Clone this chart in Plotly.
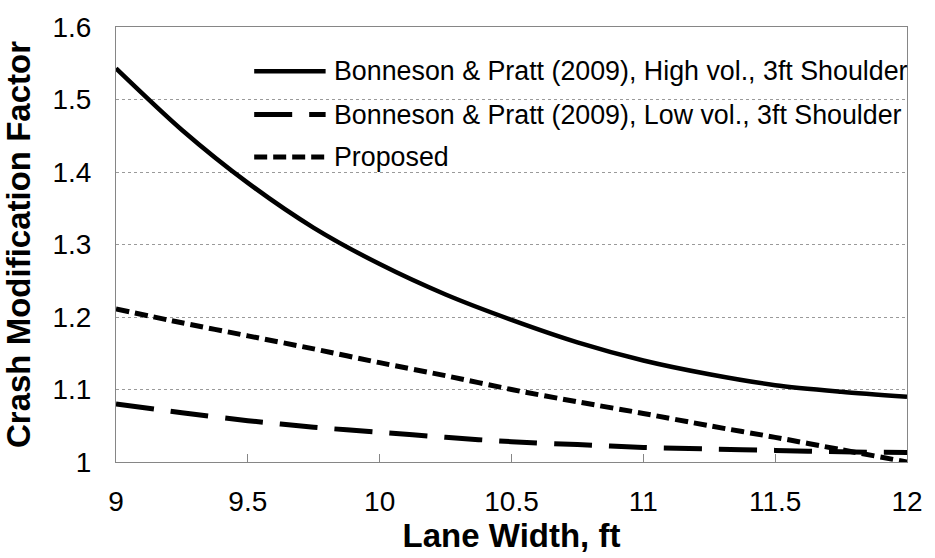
import plotly.graph_objects as go

# Lane width (ft) and crash modification factors
lane_width = [9.0, 9.25, 9.5, 9.75, 10.0, 10.25, 10.5, 10.75, 11.0, 11.25, 11.5, 11.75, 12.0]
cmf_high_vol = [1.543, 1.458, 1.385, 1.323, 1.273, 1.231, 1.196, 1.165, 1.140, 1.121, 1.106, 1.097, 1.090]
cmf_low_vol = [1.080, 1.068, 1.057, 1.048, 1.041, 1.034, 1.028, 1.024, 1.020, 1.018, 1.016, 1.014, 1.013]
cmf_proposed = [1.211, 1.192, 1.174, 1.156, 1.137, 1.119, 1.100, 1.083, 1.067, 1.050, 1.034, 1.017, 1.000]

series_names = [
    "Bonneson & Pratt (2009), High vol., 3ft Shoulder",
    "Bonneson & Pratt (2009), Low vol., 3ft Shoulder",
    "Proposed",
]

x_ticks = [9, 9.5, 10, 10.5, 11, 11.5, 12]
x_tick_text = ["9", "9.5", "10", "10.5", "11", "11.5", "12"]
y_ticks = [1.0, 1.1, 1.2, 1.3, 1.4, 1.5, 1.6]
y_tick_text = ["1", "1.1", "1.2", "1.3", "1.4", "1.5", "1.6"]

FONT = "Arial, Liberation Sans, sans-serif"
styles = [
    dict(width=4.5, dash="solid"),
    dict(width=5, dash="38px,17px"),
    dict(width=5, dash="13px,6px"),
]
series = [cmf_high_vol, cmf_low_vol, cmf_proposed]

fig = go.Figure()
for name, ys, st in zip(series_names, series, styles):
    fig.add_trace(go.Scatter(
        x=lane_width, y=ys, mode="lines", name=name,
        line=dict(color="black", width=st["width"], dash=st["dash"],
                  shape="spline", smoothing=0.8),
        showlegend=False, cliponaxis=True,
    ))

# Legend drawn inside the plot area: line sample + label per series
legend_rows = [0.898, 0.7986, 0.7014]
for name, st, yrow in zip(series_names, styles, legend_rows):
    fig.add_shape(type="line", xref="paper", yref="paper",
                  x0=0.1747, x1=0.2650, y0=yrow, y1=yrow,
                  line=dict(color="black", width=st["width"], dash=st["dash"]))
    fig.add_annotation(xref="paper", yref="paper", x=0.2725, y=yrow,
                       xanchor="left", yanchor="middle", text=name,
                       showarrow=False,
                       font=dict(family=FONT, size=26.8, color="black"))

fig.update_layout(
    width=935, height=558,
    margin=dict(l=116, r=22, t=23, b=93),
    paper_bgcolor="white", plot_bgcolor="white",
    font=dict(family=FONT, color="black"),
    showlegend=False,
)
fig.update_xaxes(
    range=[9, 12], tickvals=x_ticks, ticktext=x_tick_text,
    showline=True, mirror=True, linecolor="#868686", linewidth=1,
    ticks="inside", ticklen=8, tickcolor="#868686",
    showgrid=False, zeroline=False,
    tickfont=dict(family=FONT, size=28, color="black"),
    ticklabelstandoff=14,
    title=dict(text="<b>Lane Width, ft</b>", standoff=6,
               font=dict(family=FONT, size=33, color="black")),
)
fig.update_yaxes(
    range=[1.0, 1.6], tickvals=y_ticks, ticktext=y_tick_text,
    showline=True, mirror=True, linecolor="#868686", linewidth=1,
    ticks="", showgrid=True, gridcolor="#9a9a9a", griddash="dot", gridwidth=1,
    zeroline=False,
    tickfont=dict(family=FONT, size=28, color="black"),
    ticklabelstandoff=18,
    title=dict(text="<b>Crash Modification Factor</b>", standoff=12,
               font=dict(family=FONT, size=33, color="black")),
)

fig.write_html("out.html")
